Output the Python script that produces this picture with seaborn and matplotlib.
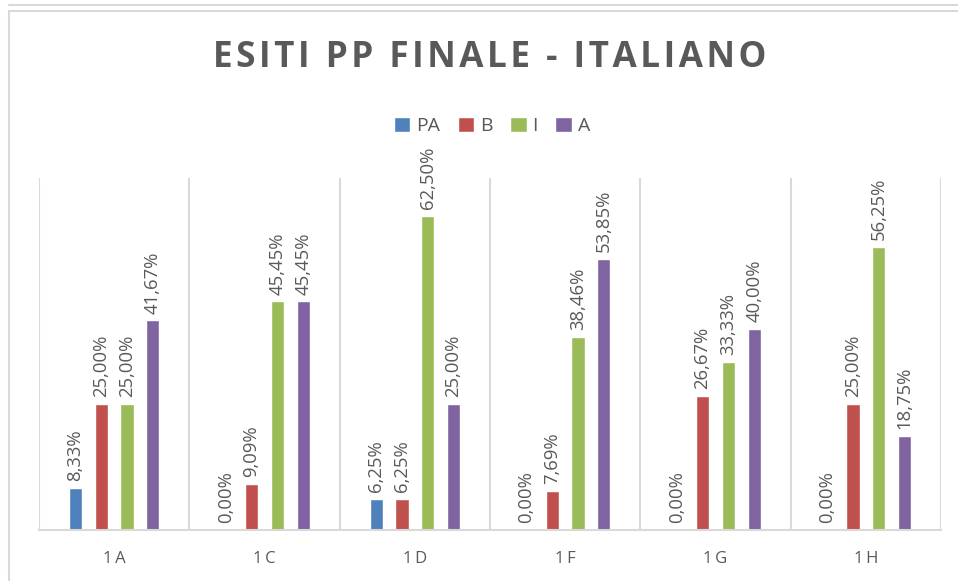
import matplotlib.pyplot as plt
import pandas as pd
import seaborn as sns
from matplotlib.lines import Line2D

# data
classes = ['1A', '1C', '1D', '1F', '1G', '1H']
levels = ['PA', 'B', 'I', 'A']
pa = [8.33, 0.00, 6.25, 0.00, 0.00, 0.00]
b = [25.00, 9.09, 6.25, 7.69, 26.67, 25.00]
i_ = [25.00, 45.45, 62.50, 38.46, 33.33, 56.25]
a = [41.67, 45.45, 25.00, 53.85, 40.00, 18.75]
colors = ['#4F81BD', '#C0504D', '#9BBB59', '#8064A2']

df = pd.DataFrame({
    'classe': classes * 4,
    'esito': [lv for lv in levels for _ in classes],
    'perc': pa + b + i_ + a,
})


def spaced(s, sp='\u200a'):
    # fake the letter spacing of the original
    return sp.join(s)


sns.set_style('white')
plt.rcParams['font.family'] = ['Open Sans', 'DejaVu Sans']
grey = '#595959'
line_grey = '#D9D9D9'

W, H = 958, 581
fig = plt.figure(figsize=(W / 100, H / 100), dpi=100)
ax = fig.add_axes([39 / W, 1 - 530 / H, (941 - 39) / W, (530 - 178) / H])

sns.barplot(data=df, x='classe', y='perc', hue='esito', hue_order=levels,
            palette=colors, width=0.686, gap=0.49, ax=ax, saturation=1)

for cont in ax.containers:
    labels = [f'{v:.2f}%'.replace('.', ',') for v in cont.datavalues]
    ax.bar_label(cont, labels=labels, rotation=90, padding=5,
                 color=grey, fontsize=13.3)

ax.set_ylim(0, 70)
ax.set_xlim(-0.5, len(classes) - 0.5)
ax.vlines([k - 0.5 for k in range(len(classes) + 1)], 0, 70,
          color=line_grey, lw=1.5, zorder=0)
for s in ['top', 'right', 'left']:
    ax.spines[s].set_visible(False)
ax.spines['bottom'].set_color(line_grey)
ax.spines['bottom'].set_linewidth(1.5)
ax.set_yticks([])
ax.set_xlabel('')
ax.set_ylabel('')
ax.set_xticks(range(len(classes)))
ax.set_xticklabels([spaced(c, '\u2009') for c in classes])
ax.tick_params(axis='x', length=0, pad=15, labelsize=12, labelcolor=grey)

sns.move_legend(ax, 'center', bbox_to_anchor=(492 / W, 1 - 126 / H),
                bbox_transform=fig.transFigure, ncol=4, frameon=False,
                title=None, fontsize=14, handlelength=0.85, handleheight=0.85,
                handletextpad=0.3, columnspacing=0.9)
for t in ax.get_legend().get_texts():
    t.set_color(grey)

fig.text(489.5 / W, 1 - 58 / H, spaced('ESITI PP FINALE - ITALIANO'),
         ha='center', va='center', fontsize=25.3, fontweight='bold', color=grey)

# chart frame (cropped at right and bottom)
fig.add_artist(Line2D([9 / W, 9 / W], [0, 1 - 11 / H], transform=fig.transFigure,
                      color=line_grey, lw=1.5))
fig.add_artist(Line2D([9 / W, 1], [1 - 11 / H, 1 - 11 / H], transform=fig.transFigure,
                      color=line_grey, lw=1.5))
fig.add_artist(Line2D([9 / W, 1], [1 - 5 / H, 1 - 5 / H], transform=fig.transFigure,
                      color=line_grey, lw=1.5))

fig.savefig('out.png', dpi=100)
